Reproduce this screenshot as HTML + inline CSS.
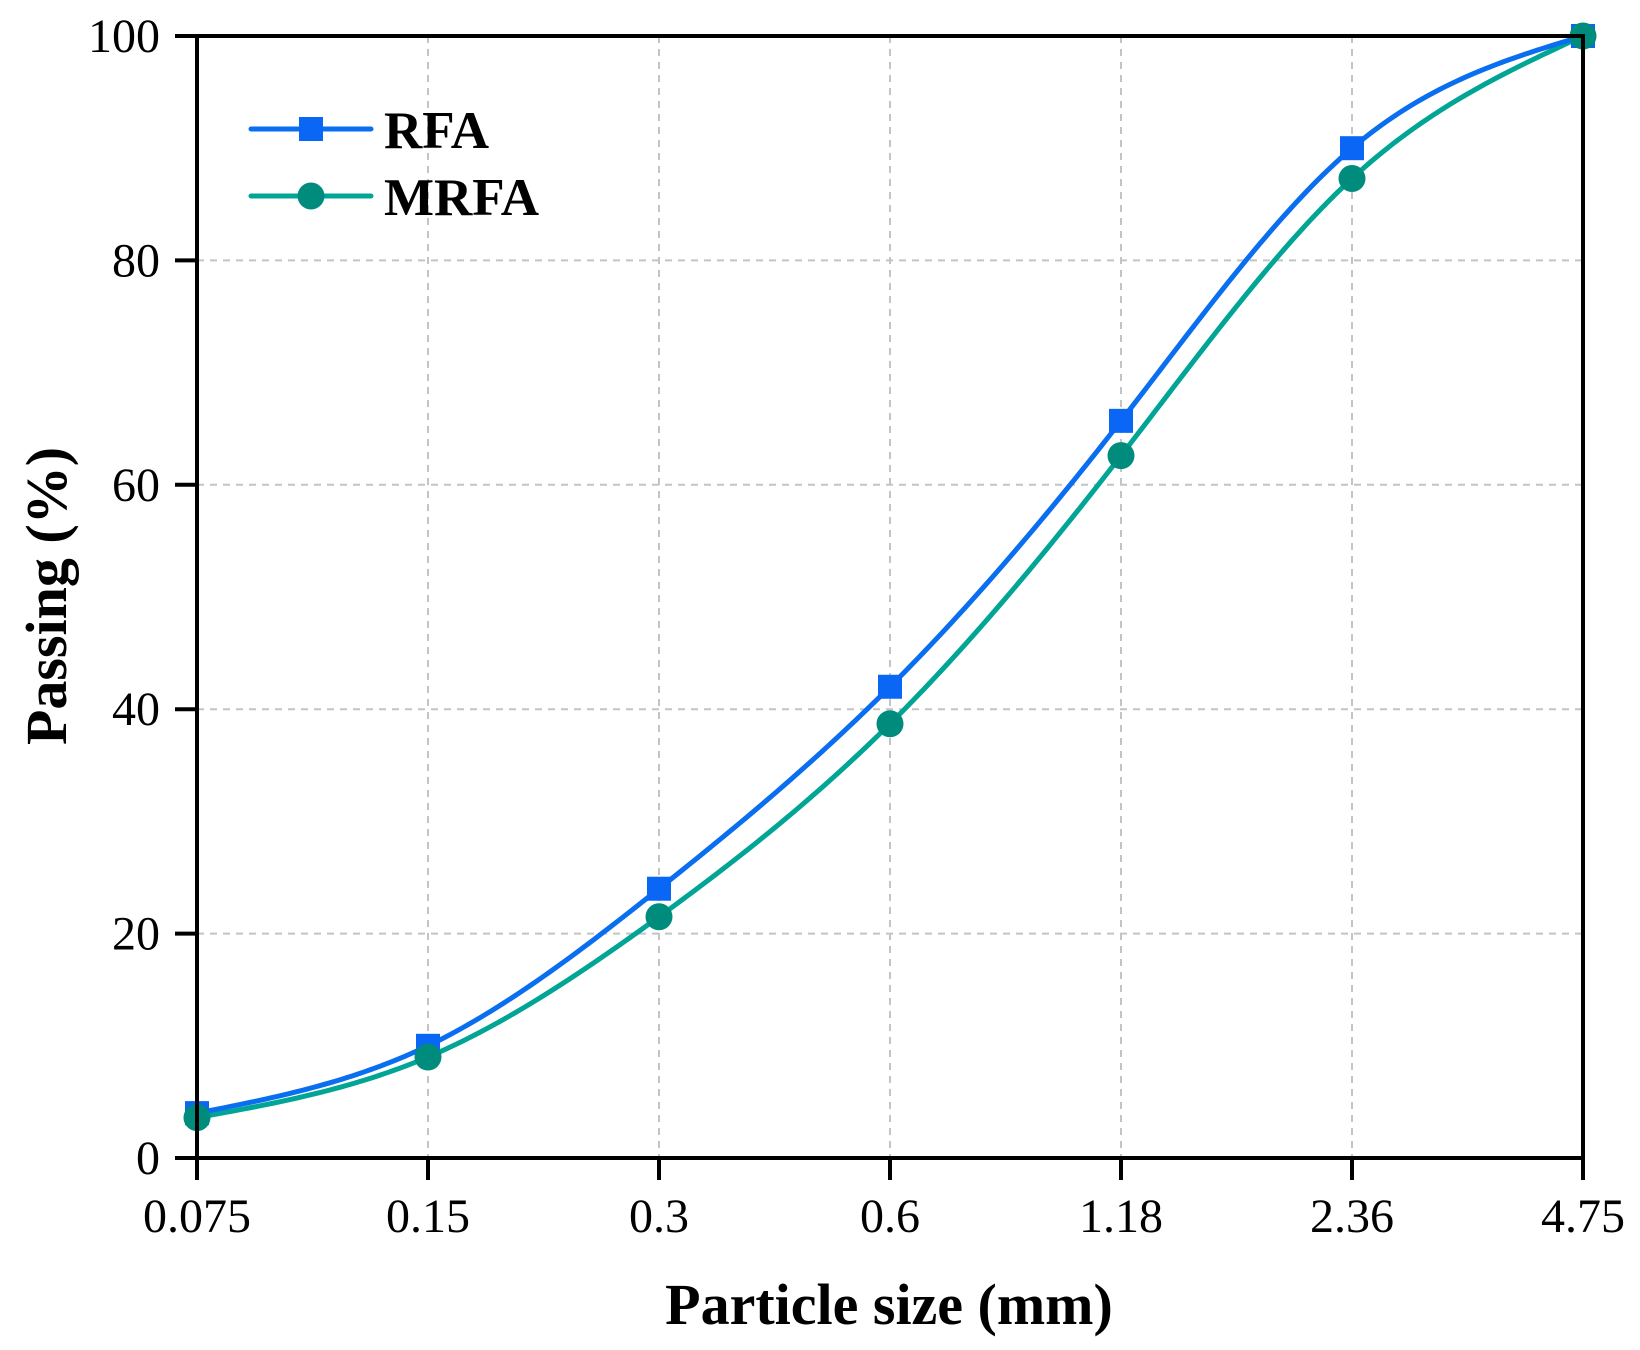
<!DOCTYPE html>
<html><head><meta charset="utf-8"><style>
html,body{margin:0;padding:0;background:#fff;}
svg{display:block;}
text{font-family:"Liberation Serif",serif;fill:#000;}
</style></head><body>
<svg id="chart" width="1640" height="1350" viewBox="0 0 1640 1350"></svg>
<script>
const categories = ["0.075","0.15","0.3","0.6","1.18","2.36","4.75"];
const rfaValues = [4.0, 10.0, 24.0, 42.0, 65.7, 90.0, 100.0];
const mrfaValues = [3.6, 9.0, 21.5, 38.7, 62.6, 87.3, 100.0];
const yTicks = [0, 20, 40, 60, 80, 100];

const NS = "http://www.w3.org/2000/svg";
const svg = document.getElementById('chart');
const L = 197, R = 1583, T = 36, B = 1158;
const xPos = i => L + i * (R - L) / (categories.length - 1);
const yPos = v => B - v / 100 * (B - T);

function mk(tag, attrs, parent) {
  const e = document.createElementNS(NS, tag);
  for (const k in attrs) e.setAttribute(k, attrs[k]);
  (parent || svg).appendChild(e);
  return e;
}

// grid
const grid = mk('g', {});


categories.forEach((c, i) => {
  if (i === 0 || i === categories.length - 1) return;
  const l = mk('line', {x1: xPos(i), x2: xPos(i), y1: T, y2: B, stroke: '#c4c4c4', 'stroke-width': 2, 'stroke-dasharray': '7,6'}, grid);
  
  
});
yTicks.forEach(v => {
  if (v === 0 || v === 100) return;
  const l = mk('line', {x1: L, x2: R, y1: yPos(v), y2: yPos(v), stroke: '#c4c4c4', 'stroke-width': 2, 'stroke-dasharray': '7,6'}, grid);
  
  
});

// natural cubic spline over uniform index
function smoothPath(vals) {
  const n = vals.length;
  const y = vals.slice();
  const m = new Array(n).fill(0);
  // solve tridiagonal for second derivatives (h=1), natural ends
  const a = [], b = [], c = [], d = [];
  for (let i = 1; i < n - 1; i++) {
    a.push(1); b.push(4); c.push(1); d.push(6 * (y[i + 1] - 2 * y[i] + y[i - 1]));
  }
  const k = a.length;
  for (let i = 1; i < k; i++) {
    const w = a[i] / b[i - 1];
    b[i] -= w * c[i - 1];
    d[i] -= w * d[i - 1];
  }
  const s = new Array(k);
  s[k - 1] = d[k - 1] / b[k - 1];
  for (let i = k - 2; i >= 0; i--) s[i] = (d[i] - c[i] * s[i + 1]) / b[i];
  for (let i = 0; i < k; i++) m[i + 1] = s[i];
  let path = '';
  const steps = 40;
  for (let i = 0; i < n - 1; i++) {
    for (let j = 0; j <= steps; j++) {
      if (i > 0 && j === 0) continue;
      const t = j / steps;
      const A = 1 - t, Bt = t;
      const v = A * y[i] + Bt * y[i + 1] + ((A * A * A - A) * m[i] + (Bt * Bt * Bt - Bt) * m[i + 1]) / 6;
      const px = xPos(i + t), py = yPos(v);
      path += (path ? ' L' : 'M') + px.toFixed(2) + ',' + py.toFixed(2);
    }
  }
  return path;
}

const mrfaLine = mk('path', {d: smoothPath(mrfaValues), fill: 'none', stroke: '#00a595', 'stroke-width': 5, 'stroke-linejoin': 'round'});


const rfaLine = mk('path', {d: smoothPath(rfaValues), fill: 'none', stroke: '#0a6ef0', 'stroke-width': 5, 'stroke-linejoin': 'round'});



rfaValues.forEach((v, i) => {
  const r = mk('rect', {x: xPos(i) - 12, y: yPos(v) - 12, width: 24, height: 24, fill: '#0a66f5'});
  
  
});
mrfaValues.forEach((v, i) => {
  const c = mk('circle', {cx: xPos(i), cy: yPos(v), r: 13.5, fill: '#008c7c'});
  
  
});

// axes frame
const frame = mk('rect', {x: L, y: T, width: R - L, height: B - T, fill: 'none', stroke: '#000', 'stroke-width': 4});



// x ticks & labels
categories.forEach((c, i) => {
  const t = mk('line', {x1: xPos(i), x2: xPos(i), y1: B, y2: B + 22, stroke: '#000', 'stroke-width': 4});
  
  
  const tx = mk('text', {x: xPos(i), y: 1232, 'text-anchor': 'middle', 'font-size': 48});
  tx.textContent = c;
  
  
});
// y ticks & labels
yTicks.forEach(v => {
  const t = mk('line', {x1: L - 22, x2: L, y1: yPos(v), y2: yPos(v), stroke: '#000', 'stroke-width': 4});
  
  
  const tx = mk('text', {x: 160, y: yPos(v) + 16, 'text-anchor': 'end', 'font-size': 48});
  tx.textContent = v;
  
  
});

// axis titles
const xt = mk('text', {x: 889, y: 1324, 'text-anchor': 'middle', 'font-size': 58, 'font-weight': 'bold'});
xt.textContent = 'Particle size (mm)';


const yt = mk('text', {x: 0, y: 0, 'text-anchor': 'middle', 'font-size': 58, 'font-weight': 'bold', transform: 'translate(66,596) rotate(-90)'});
yt.textContent = 'Passing (%)';



// legend
const lg = mk('g', {});


const l1 = mk('g', {}, lg);


mk('line', {x1: 251, x2: 371, y1: 129, y2: 129, stroke: '#0a6ef0', 'stroke-width': 5, 'stroke-linecap': 'round'}, l1);
mk('rect', {x: 299, y: 117, width: 24, height: 24, fill: '#0a66f5'}, l1);
const t1 = mk('text', {x: 384, y: 148, 'font-size': 53, 'font-weight': 'bold'}, l1);
t1.textContent = 'RFA';
const l2 = mk('g', {}, lg);


mk('line', {x1: 251, x2: 371, y1: 196, y2: 196, stroke: '#00a595', 'stroke-width': 5, 'stroke-linecap': 'round'}, l2);
mk('circle', {cx: 311, cy: 196, r: 13.5, fill: '#008c7c'}, l2);
const t2 = mk('text', {x: 384, y: 215, 'font-size': 53, 'font-weight': 'bold'}, l2);
t2.textContent = 'MRFA';
</script>
</body></html>
